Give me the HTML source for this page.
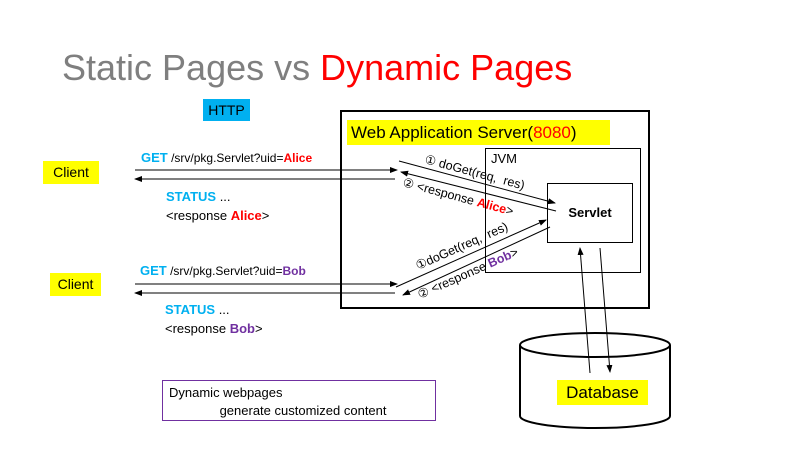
<!DOCTYPE html>
<html><head><meta charset="utf-8"><style>
body{margin:0;width:800px;height:450px;background:#fff;position:relative;overflow:hidden;font-family:"Liberation Sans",sans-serif}
.a{position:absolute;white-space:nowrap}
</style></head><body>
<div class="a" style="left:62px;top:47px;font-size:36px;color:#7f7f7f">Static Pages vs <span style="color:#ff0000">Dynamic Pages</span></div>
<div class="a" style="left:203px;top:99px;width:47px;height:22px;background:#00b0f0;font-size:14px;line-height:22px;text-align:center">HTTP</div>
<div class="a" style="left:340px;top:110px;width:306px;height:195px;border:2px solid #000"></div>
<div class="a" style="left:347px;top:120px;width:263px;height:25px;background:#ffff00;font-size:17px;line-height:25px;padding-left:4px;box-sizing:border-box">Web Application Server(<span style="color:#ff0000">8080</span>)</div>
<div class="a" style="left:485px;top:148px;width:154px;height:123px;border:1px solid #000"></div>
<div class="a" style="left:491px;top:151px;font-size:13px">JVM</div>
<div class="a" style="left:547px;top:183px;width:84px;height:58px;border:1px solid #000;background:#fff;font-size:13px;font-weight:bold;line-height:58px;text-align:center">Servlet</div>
<div class="a" style="left:43px;top:161px;width:56px;height:23px;background:#ffff00;font-size:14px;line-height:23px;text-align:center">Client</div>
<div class="a" style="left:50px;top:273px;width:51px;height:23px;background:#ffff00;font-size:14px;line-height:23px;text-align:center">Client</div>
<div class="a" style="left:141px;top:150px;font-size:12px"><b style="color:#00b0f0;font-size:13px">GET</b> /srv/pkg.Servlet?uid=<b style="color:#ff0000">Alice</b></div>
<div class="a" style="left:166px;top:187px;font-size:13px;line-height:19px"><b style="color:#00b0f0">STATUS</b> ...<br>&lt;response <b style="color:#ff0000">Alice</b>&gt;</div>
<div class="a" style="left:140px;top:263px;font-size:12px"><b style="color:#00b0f0;font-size:13px">GET</b> /srv/pkg.Servlet?uid=<b style="color:#7030a0">Bob</b></div>
<div class="a" style="left:165px;top:300px;font-size:13px;line-height:19px"><b style="color:#00b0f0">STATUS</b> ...<br>&lt;response <b style="color:#7030a0">Bob</b>&gt;</div>
<div class="a" style="left:162px;top:380px;width:274px;height:41px;border:1px solid #7030a0;font-size:13px;line-height:18px;padding:3px 6px;box-sizing:border-box">Dynamic webpages<br>&nbsp;&nbsp;&nbsp;&nbsp;&nbsp;&nbsp;&nbsp;&nbsp;&nbsp;&nbsp;&nbsp;&nbsp;&nbsp;&nbsp;generate customized content</div>
<svg class="a" style="left:0;top:0" width="800" height="450">
<defs><marker id="m" markerWidth="8" markerHeight="6" refX="7" refY="3" orient="auto"><path d="M0,0L8,3L0,6z"/></marker></defs>
<g stroke="#000" stroke-width="1" marker-end="url(#m)">
<line x1="135" y1="170" x2="397" y2="170"/>
<line x1="395" y1="179" x2="135" y2="179"/>
<line x1="135" y1="284" x2="397" y2="284"/>
<line x1="395" y1="293" x2="135" y2="293"/>
<line x1="399" y1="161" x2="555" y2="203"/>
<line x1="556" y1="211" x2="401" y2="172"/>
<line x1="396" y1="287" x2="546" y2="220"/>
<line x1="550" y1="227" x2="403" y2="295"/>
<line x1="590" y1="373" x2="580" y2="248"/>
<line x1="600" y1="248" x2="610" y2="372"/>
</g>
<path d="M520,345 L520,416 A75,12 0 0 0 670,416 L670,345" fill="none" stroke="#000" stroke-width="2"/>
<ellipse cx="595" cy="345" rx="75" ry="12" fill="none" stroke="#000" stroke-width="2"/>
<g font-family="Liberation Sans,sans-serif" font-size="12.5" fill="#000">
<text transform="translate(424,163) rotate(15)">① doGet(req,&#160;&#160;res)</text>
<text transform="translate(402,186) rotate(15)">② &lt;response <tspan fill="#ff0000" font-weight="bold">Alice</tspan>&gt;</text>
<text transform="translate(418,270) rotate(-24)">①doGet(req,&#160;&#160;res)</text>
<text transform="translate(420,299) rotate(-24)">② &lt;response <tspan fill="#7030a0" font-weight="bold">Bob</tspan>&gt;</text>
</g>
</svg>
<div class="a" style="left:557px;top:380px;width:91px;height:25px;background:#ffff00;font-size:17px;line-height:25px;text-align:center">Database</div>
</body></html>
